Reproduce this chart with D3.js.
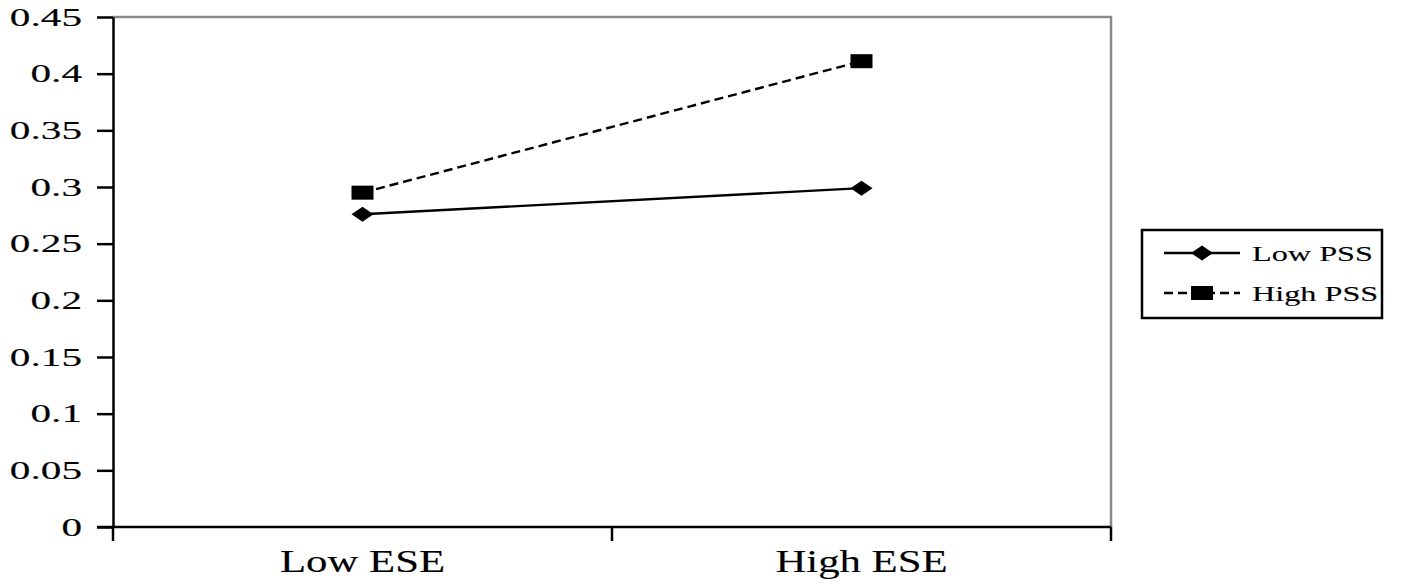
<!DOCTYPE html>
<html>
<head>
<meta charset="utf-8">
<script src="https://cdn.jsdelivr.net/npm/d3@7"></script>
<style>
  body { margin: 0; background: #fff; }
  svg { display: block; }
  text { stroke: #000; stroke-width: 0.12px; }
</style>
</head>
<body>
<div class="chart"></div>
<script>
const categories = ["Low ESE", "High ESE"];
const seriesNames = ["Low PSS", "High PSS"];
const lowPSS = [0.276, 0.299];
const highPSS = [0.295, 0.411];
const yTicks = [0, 0.05, 0.1, 0.15, 0.2, 0.25, 0.3, 0.35, 0.4, 0.45];
const yTickLabels = ["0", "0.05", "0.1", "0.15", "0.2", "0.25", "0.3", "0.35", "0.4", "0.45"];

const width = 1417, height = 585;
const margin = { top: 17, right: 306, bottom: 58, left: 113 };
const font = "'Liberation Serif', 'Times New Roman', serif";

const svg = d3.select(".chart")
    .append("svg")
    .attr("width", width)
    .attr("height", height);

const xScale = d3.scaleBand()
    .domain(categories)
    .range([margin.left, width - margin.right])
    .padding(0);

const yScale = d3.scaleLinear()
    .domain([0, 0.45])
    .range([height - margin.bottom, margin.top]);

// gray top and right frame
svg.append("path")
    .attr("d", `M${margin.left},${yScale(0.45)}H${xScale.range()[1]}V${yScale(0)}`)
    .attr("fill", "none")
    .attr("stroke", "#8a8a8a")
    .attr("stroke-width", 2.5);

// y axis
const yAxis = svg.append("g")
    .attr("transform", `translate(${margin.left},0)`)
    .call(d3.axisLeft(yScale)
        .tickValues(yTicks)
        .tickFormat((d, i) => yTickLabels[i])
        .tickSize(16)
        .tickSizeOuter(0));
yAxis.select(".domain").attr("stroke", "#000").attr("stroke-width", 2.5);
yAxis.selectAll(".tick line").attr("stroke", "#000").attr("stroke-width", 2.5);
yAxis.selectAll(".tick text")
    .attr("font-family", font)
    .attr("font-size", "25px")
    .attr("fill", "#000")
    .attr("x", -31 / 1.65)
    .attr("dy", "0.33em")
    .attr("transform", "scale(1.65,1)");

// x axis
const xBase = yScale(0);
svg.append("line")
    .attr("x1", margin.left - 16)
    .attr("x2", xScale.range()[1])
    .attr("y1", xBase)
    .attr("y2", xBase)
    .attr("stroke", "#000")
    .attr("stroke-width", 2.5);

const bounds = categories.map(c => xScale(c)).concat([xScale.range()[1]]);
svg.selectAll(".xtick")
    .data(bounds)
    .join("line")
    .attr("class", "xtick")
    .attr("x1", d => d)
    .attr("x2", d => d)
    .attr("y1", xBase)
    .attr("y2", xBase + 14)
    .attr("stroke", "#000")
    .attr("stroke-width", 2.5);

svg.selectAll(".xlabel")
    .data(categories)
    .join("text")
    .attr("class", "xlabel")
    .attr("text-anchor", "middle")
    .attr("font-family", font)
    .attr("font-size", "31px")
    .attr("transform", d => `translate(${xScale(d) + xScale.bandwidth() / 2},${xBase + 45}) scale(1.38,1)`)
    .text(d => d);

// series
const cx = c => xScale(c) + xScale.bandwidth() / 2;
const line = d3.line()
    .x((d, i) => cx(categories[i]))
    .y(d => yScale(d));

const series = [
    { name: seriesNames[0], values: lowPSS, dash: null, marker: "diamond" },
    { name: seriesNames[1], values: highPSS, dash: "9,5", marker: "square" }
];

const drawMarker = (g, type, x, y) => {
    if (type === "diamond") {
        g.append("path")
            .attr("d", `M${x - 11},${y}L${x},${y - 7.5}L${x + 11},${y}L${x},${y + 7.5}Z`)
            .attr("fill", "#000");
    } else {
        g.append("rect")
            .attr("x", x - 11)
            .attr("y", y - 7)
            .attr("width", 22)
            .attr("height", 14)
            .attr("fill", "#000");
    }
};

series.forEach(s => {
    svg.append("path")
        .datum(s.values)
        .attr("d", line)
        .attr("fill", "none")
        .attr("stroke", "#000")
        .attr("stroke-width", 2.4)
        .attr("stroke-dasharray", s.dash);
    const g = svg.append("g");
    s.values.forEach((v, i) => drawMarker(g, s.marker, cx(categories[i]), yScale(v)));
});

// legend
const legend = svg.append("g").attr("transform", "translate(1142,230)");
legend.append("rect")
    .attr("width", 240)
    .attr("height", 88)
    .attr("fill", "#fff")
    .attr("stroke", "#000")
    .attr("stroke-width", 2.5);

series.forEach((s, i) => {
    const ly = 23 + i * 40;
    legend.append("line")
        .attr("x1", 22)
        .attr("x2", 98)
        .attr("y1", ly)
        .attr("y2", ly)
        .attr("stroke", "#000")
        .attr("stroke-width", 2.4)
        .attr("stroke-dasharray", s.dash);
    drawMarker(legend, s.marker, 60, ly);
    legend.append("text")
        .attr("font-family", font)
        .attr("font-size", "21.5px")
        .attr("transform", `translate(110,${ly + 8}) scale(1.5,1)`)
        .text(s.name);
});
</script>
</body>
</html>
